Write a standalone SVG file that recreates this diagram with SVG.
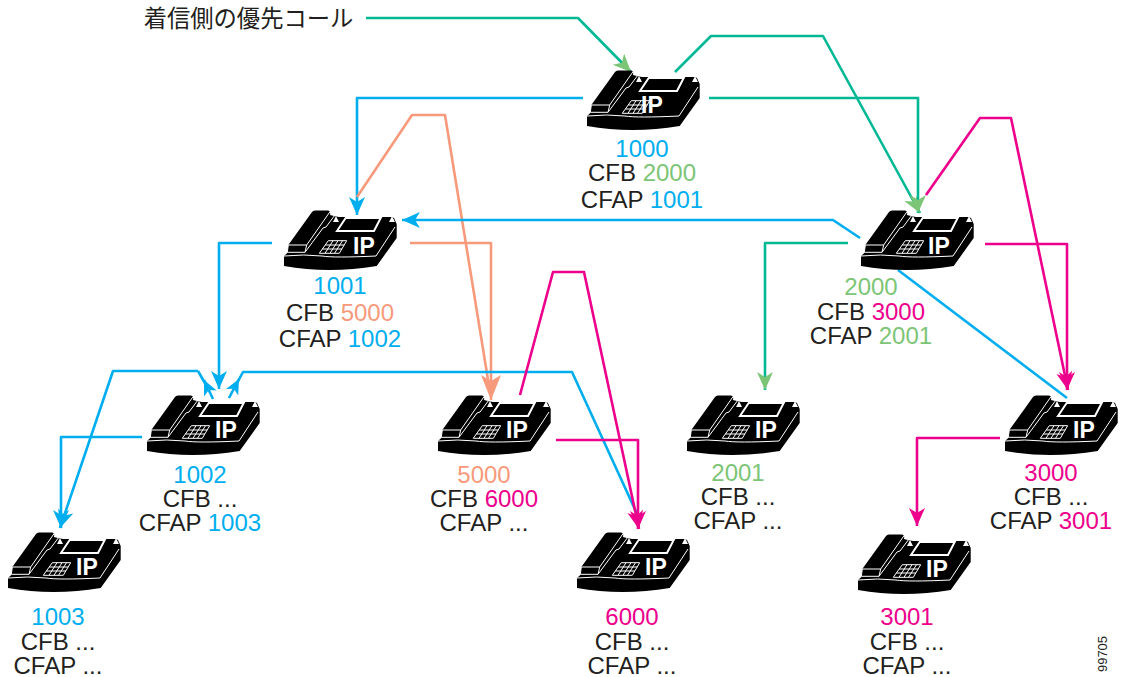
<svg xmlns="http://www.w3.org/2000/svg" width="1127" height="677" viewBox="0 0 1127 677">
<style>
text{font-family:"Liberation Sans","Noto Sans CJK JP",sans-serif;font-size:24px;fill:#231f20;text-anchor:middle}
.ip{font-weight:bold;fill:#fff;font-size:23px;text-anchor:start}
.b{fill:#00aeef}.g{fill:#7cc576}.p{fill:#ec008c}.s{fill:#f79a7b}
.c{fill:none;stroke-width:2.6;stroke-linejoin:round}
.cb{stroke:#00aeef}.ct{stroke:#00b894}.cp{stroke:#ec008c}.cs{stroke:#f79a7b}
</style>
<defs>
<marker id="hb" markerUnits="userSpaceOnUse" markerWidth="20" markerHeight="20" refX="18" refY="8" orient="auto"><path d="M0,0L18,8L0,16L5,8Z" fill="#00aeef"/></marker>
<marker id="hbs" markerUnits="userSpaceOnUse" markerWidth="16" markerHeight="14" refX="15" refY="7" orient="auto"><path d="M0,0L15,7L0,14L4,7Z" fill="#00aeef"/></marker>
<marker id="hg" markerUnits="userSpaceOnUse" markerWidth="20" markerHeight="20" refX="18" refY="8" orient="auto"><path d="M0,0L18,8L0,16L5,8Z" fill="#7cc576"/></marker>
<marker id="hp" markerUnits="userSpaceOnUse" markerWidth="20" markerHeight="20" refX="18" refY="8" orient="auto"><path d="M0,0L18,8L0,16L5,8Z" fill="#ec008c"/></marker>
<marker id="hs" markerUnits="userSpaceOnUse" markerWidth="26" markerHeight="20" refX="25" refY="10" orient="auto"><path d="M0,0L25,10L0,20L6,10Z" fill="#f79a7b"/></marker>
<g id="phone">
<path d="M0,46L3.300,43L4.300,35L28,2Q29,0.500 31,0.500L44,0.500Q47,1 46,5L50,6L55,7L108,7L110,8L112.700,14L112.700,28L92.700,56Q45,64 0,56Z" fill="#000"/>
<path d="M0,46Q20,44 38,46Q50,48 92,46L111,17" fill="none" stroke="#fff" stroke-width="1"/>
<path d="M4.300,35L22.700,35L21,42.300L3.300,42.300ZM22.700,35L46,1.700M21,42.300L39,18L42,17L51,5" fill="none" stroke="#fff" stroke-width="1"/>
<path d="M53,21L61.700,8L96.700,8L90,21Z" fill="#000" stroke="#fff" stroke-width="2"/>
<path d="M49,12L55,12L52,6ZM105,12L111,12L108,6Z" fill="#fff"/>
<path d="M35.300,43.300L44.300,30.700L62.700,30.700L55.300,43.300ZM38.300,39L58,39M41.300,35L60.200,35M41,43.300L49,30.700M46,43.300L54,30.700M50.500,43.300L58.500,30.700" fill="none" stroke="#fff" stroke-width="1"/>
</g>
</defs>
<g id="connectors">
<path class="c ct" marker-end="url(#hg)" d="M366,18L578,18L631,72"/>
<path class="c ct" marker-end="url(#hg)" d="M675,72L711,36L823,36L920,213"/>
<path class="c ct" marker-end="url(#hg)" d="M709,98L918,98L918,213"/>
<path class="c cb" marker-end="url(#hb)" d="M583,98L357,98L357,215"/>
<path class="c cs" d="M357,197L412,115L445,115L490,392"/>
<path class="c cs" marker-end="url(#hs)" d="M410,243L491,243L491,400"/>
<path class="c cb" marker-end="url(#hb)" d="M860,238L833,220L402,220"/>
<path class="c ct" marker-end="url(#hg)" d="M848,243L765,243L765,390"/>
<path class="c cb" d="M898,270L1067,398"/>
<path class="c cp" marker-end="url(#hp)" d="M926,195L980,118L1011,118L1068,390"/>
<path class="c cp" marker-end="url(#hp)" d="M985,244L1067,244L1067,390"/>
<path class="c cb" marker-end="url(#hb)" d="M272,243L219,243L219,389"/>
<path class="c cb" marker-end="url(#hb)" d="M142,437L61,437L61,528"/>
<path class="c cb" marker-end="url(#hb)" d="M198,371L113,371L60,528"/>
<path class="c cb" d="M198,371L206,385"/>
<path class="c cb" marker-end="url(#hbs)" d="M213,399L204,380"/>
<path class="c cb" marker-end="url(#hbs)" d="M229,398L239,379"/>
<path class="c cb" d="M236,385L243,372L572,372L638,516"/>
<path class="c cp" marker-end="url(#hp)" d="M556,440L638,440L638,529"/>
<path class="c cp" marker-end="url(#hp)" d="M520,395L553,272L584,272L639,529"/>
<path class="c cp" marker-end="url(#hp)" d="M1000,438L917,438L917,526"/>
</g>
<text x="248.500" y="27" style="font-size:23.300px">着信側の優先コール</text>
<g id="n1000"><use href="#phone" x="587" y="70"/><text class="ip" x="641" y="113">IP</text><text x="642" y="157" class="b">1000</text><text x="642" y="181">CFB <tspan class="g">2000</tspan></text><text x="642" y="208">CFAP <tspan class="b">1001</tspan></text></g>
<g id="n1001"><use href="#phone" x="284" y="210"/><text class="ip" x="353" y="254">IP</text><text x="340" y="294" class="b">1001</text><text x="340" y="321">CFB <tspan class="s">5000</tspan></text><text x="340" y="347">CFAP <tspan class="b">1002</tspan></text></g>
<g id="n2000"><use href="#phone" x="861" y="210"/><text class="ip" x="928" y="254">IP</text><text x="871" y="295" class="g">2000</text><text x="871" y="320">CFB <tspan class="p">3000</tspan></text><text x="871" y="344">CFAP <tspan class="g">2001</tspan></text></g>
<g id="n1002"><use href="#phone" x="147" y="395"/><text class="ip" x="215" y="438">IP</text><text x="200" y="483" class="b">1002</text><text x="200" y="507">CFB ...</text><text x="200" y="531">CFAP <tspan class="b">1003</tspan></text></g>
<g id="n5000"><use href="#phone" x="438" y="395"/><text class="ip" x="506" y="438">IP</text><text x="484" y="483" class="s">5000</text><text x="484" y="507">CFB <tspan class="p">6000</tspan></text><text x="484" y="531">CFAP ...</text></g>
<g id="n2001"><use href="#phone" x="687" y="395"/><text class="ip" x="755" y="438">IP</text><text x="738" y="481" class="g">2001</text><text x="738" y="505">CFB ...</text><text x="738" y="529">CFAP ...</text></g>
<g id="n3000"><use href="#phone" x="1005" y="395"/><text class="ip" x="1073" y="438">IP</text><text x="1051" y="481" class="p">3000</text><text x="1051" y="505">CFB ...</text><text x="1051" y="529">CFAP <tspan class="p">3001</tspan></text></g>
<g id="n1003"><use href="#phone" x="8" y="532"/><text class="ip" x="76" y="575">IP</text><text x="58" y="625" class="b">1003</text><text x="58" y="650">CFB ...</text><text x="58" y="674">CFAP ...</text></g>
<g id="n6000"><use href="#phone" x="577" y="532"/><text class="ip" x="645" y="575">IP</text><text x="632" y="625" class="p">6000</text><text x="632" y="650">CFB ...</text><text x="632" y="674">CFAP ...</text></g>
<g id="n3001"><use href="#phone" x="858" y="534"/><text class="ip" x="926" y="577">IP</text><text x="907" y="625" class="p">3001</text><text x="907" y="650">CFB ...</text><text x="907" y="674">CFAP ...</text></g>
<text x="1107" y="654" transform="rotate(-90 1107 654)" style="font-size:13px">99705</text>
</svg>
